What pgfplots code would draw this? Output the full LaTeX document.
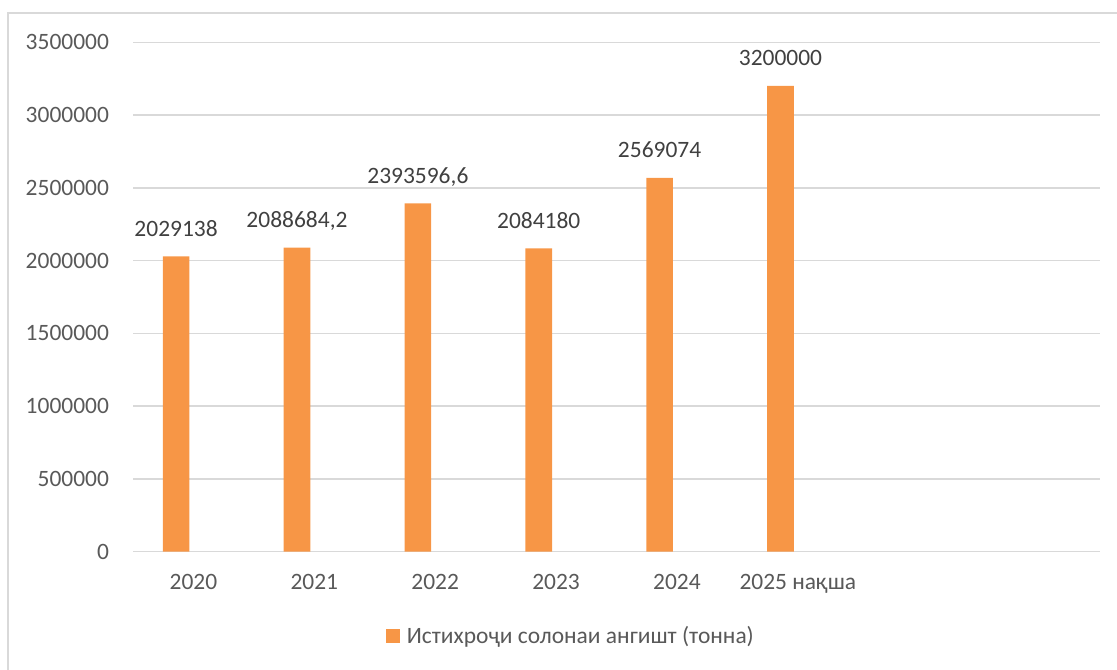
\documentclass[border=0pt]{standalone}
\usepackage{fontspec}
\setmainfont{Carlito}
\usepackage{pgfplots}
\pgfplotsset{compat=1.18}
\definecolor{barorange}{HTML}{F79646}
\definecolor{gridgray}{HTML}{D9D9D9}
\definecolor{ticktext}{HTML}{595959}
\definecolor{labeltext}{HTML}{404040}
\begin{document}
\begin{tikzpicture}[font=\fontsize{17.6pt}{21pt}\selectfont]
\useasboundingbox (0,0) rectangle (837.75pt,501.75pt);
\draw[gridgray, line width=1.5pt] (5.9pt,-20pt) -- (5.9pt,492pt) -- (860pt,492pt);
\begin{axis}[
  at={(99.75pt,87.975pt)}, anchor=south west,
  scale only axis, width=725.25pt, height=382.05pt,
  xmin=-0.5, xmax=7.5, ymin=0, ymax=3500000,
  scaled y ticks=false,
  ybar, bar width=20pt, bar shift=-13pt,
  xtick={0,1,2,3,4,5},
  xticklabels={2020,2021,2022,2023,2024,2025 нақша},
  ytick={0,500000,1000000,1500000,2000000,2500000,3000000,3500000},
  yticklabels={0,500000,1000000,1500000,2000000,2500000,3000000,3500000},
  ymajorgrids, grid style={gridgray, line width=1pt},
  axis line style={draw=none}, major tick length=0pt,
  tick style={draw=none},
  tick label style={text=ticktext},
  xticklabel style={anchor=base, yshift=-28.5pt, inner sep=0pt},
  yticklabel style={anchor=east, inner sep=0pt, xshift=-17.8pt},
  nodes near coords, point meta=explicit symbolic,
  every node near coord/.append style={text=labeltext, anchor=base, yshift=15pt, inner sep=0pt},
  legend style={at={(0.2616,-0.1655)}, anchor=west, draw=none, fill=none,
    inner sep=0pt, nodes={inner sep=0pt, text=ticktext},
    /tikz/every odd column/.append style={column sep=5pt}},
  legend image code/.code={\fill[#1] (0pt,-5.25pt) rectangle (10.5pt,5.25pt);},
]
\addplot[fill=barorange, draw=none] coordinates {
  (0,2029138) [2029138]
  (1,2088684.2) [2088684,2]
  (2,2393596.6) [2393596,6]
  (3,2084180) [2084180]
  (4,2569074) [2569074]
  (5,3200000) [3200000]
};
\addlegendentry{Истихроҷи солонаи ангишт (тонна)}
\end{axis}
\end{tikzpicture}
\end{document}
